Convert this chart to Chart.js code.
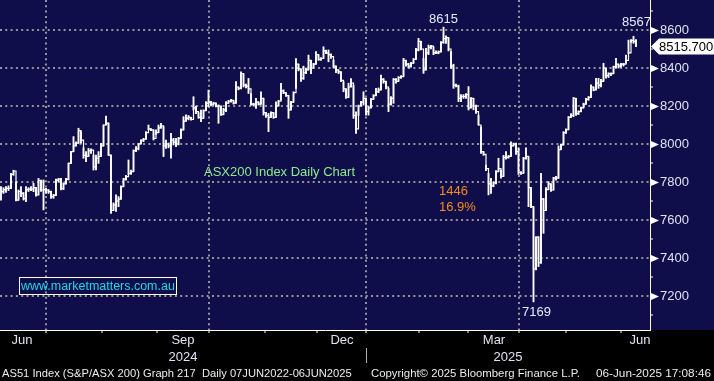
<!DOCTYPE html>
<html><head><meta charset="utf-8">
<script src="https://cdn.jsdelivr.net/npm/chart.js@4.4.1/dist/chart.umd.min.js"></script>
<style>html,body{margin:0;padding:0;background:#000;overflow:hidden}#wrap{width:714px;height:381px}</style>
</head><body><div id="wrap"><canvas id="c" width="714" height="381"></canvas></div>
<script>
// ---- data (daily bars, Jun 2024 - 6 Jun 2025) ----
const closes = [
7749,7760,7766,7767,7840,7858,7705,7750,7740,7712,
7760,7762,7762,7770,7732,7808,7758,7760,7758,7749,
7723,7730,7810,7815,7765,7790,7814,7898,7960,7990,
8005,8070,8020,7940,7935,7965,7968,7880,7925,7935,
7990,8100,8110,7942,7650,7680,7700,7710,7776,7815,
7828,7846,7855,7965,7975,8000,8020,8025,8060,8080,
8074,8030,8060,8085,8095,7990,8000,7990,8020,8010,
8000,8030,8074,8120,8135,8140,8130,8190,8170,8140,
8135,8175,8215,8220,8210,8215,8200,8200,8155,8180,
8215,8225,8230,8215,8300,8293,8370,8310,8305,8290,
8210,8210,8220,8210,8240,8165,8150,8140,8165,8140,
8200,8225,8280,8270,8255,8180,8220,8270,8420,8395,
8345,8375,8390,8440,8400,8420,8470,8445,8450,8490,
8480,8470,8460,8410,8390,8380,8335,8290,8245,8300,
8320,8150,8080,8200,8220,8240,8170,8190,8235,8255,
8275,8285,8340,8330,8300,8210,8240,8340,8330,8350,
8355,8440,8420,8410,8425,8445,8495,8540,8500,8390,
8480,8510,8515,8480,8480,8485,8535,8555,8560,8500,
8410,8310,8305,8240,8250,8250,8260,8190,8240,8200,
8170,8100,7960,7945,7870,7790,7780,7795,7855,7870,
7830,7930,7930,7935,7990,8000,7960,7850,7846,7925,
7935,7770,7670,7343,7510,7375,7710,7650,7760,7790,
7758,7820,7820,7970,7995,8060,8075,8140,8150,8240,
8160,8170,8190,8210,8235,8245,8300,8285,8320,8310,
8330,8400,8360,8370,8370,8407,8420,8410,8420,8420,
8440,8480,8545,8540,8515.7];
const highs = [
7776,7770,7776,7780,7845,7862,7800,7758,7776,7745,
7776,7770,7776,7793,7770,7819,7810,7811,7767,7760,
7752,7735,7815,7819,7819,7795,7819,7900,7962,8039,
8012,8083,8065,7980,7960,7977,7975,7942,7942,7960,
8004,8100,8147,8110,7942,7690,7732,7723,7780,7819,
7835,7916,7863,7969,7986,8004,8021,8030,8065,8100,
8080,8074,8074,8100,8109,8092,8021,8005,8056,8030,
8030,8035,8080,8144,8153,8150,8140,8249,8200,8165,
8179,8180,8223,8284,8225,8220,8215,8206,8200,8188,
8223,8230,8235,8230,8328,8300,8380,8370,8315,8345,
8266,8215,8240,8222,8275,8240,8165,8161,8170,8165,
8222,8230,8319,8285,8270,8257,8225,8275,8450,8420,
8395,8410,8400,8468,8440,8425,8486,8470,8455,8512,
8495,8495,8475,8442,8410,8390,8380,8328,8290,8320,
8345,8310,8170,8205,8225,8275,8240,8200,8240,8260,
8293,8295,8363,8345,8330,8293,8250,8345,8345,8355,
8360,8451,8440,8425,8430,8450,8504,8556,8540,8450,
8504,8521,8520,8510,8490,8490,8539,8615,8570,8560,
8486,8420,8315,8310,8260,8260,8265,8302,8245,8240,
8205,8152,8091,7960,7889,7846,7819,7800,7860,7925,
7863,7940,7960,7940,8012,8005,8005,7980,7855,7930,
7980,7933,7770,7670,7512,7512,7846,7714,7770,7802,
7790,7825,7830,7990,8000,8065,8080,8145,8160,8245,
8240,8175,8195,8215,8240,8250,8311,8300,8346,8346,
8340,8425,8400,8375,8375,8410,8451,8420,8425,8425,
8468,8547,8550,8567,8550];
const lows = [
7705,7740,7745,7755,7765,7835,7700,7705,7723,7705,
7697,7750,7755,7749,7725,7732,7750,7653,7740,7740,
7714,7714,7730,7800,7758,7760,7790,7811,7898,7960,
7990,8005,8004,7925,7907,7935,7950,7863,7863,7898,
7935,7990,8100,7940,7635,7650,7645,7670,7710,7776,
7810,7840,7840,7855,7960,7969,8000,8012,8025,8074,
8070,8021,8050,8060,8083,7934,7977,7980,7925,7995,
7986,7995,8030,8074,8120,8127,8125,8179,8160,8135,
8118,8135,8175,8197,8200,8205,8195,8109,8150,8155,
8170,8215,8220,8210,8215,8285,8290,8300,8295,8266,
8205,8200,8187,8205,8210,8152,8140,8065,8140,8135,
8140,8200,8231,8265,8250,8135,8180,8220,8293,8385,
8330,8340,8370,8390,8370,8400,8420,8440,8440,8450,
8475,8433,8450,8400,8375,8370,8328,8275,8240,8245,
8300,8135,8056,8150,8200,8205,8152,8152,8190,8235,
8255,8270,8285,8320,8290,8170,8205,8214,8320,8330,
8345,8355,8410,8400,8405,8425,8445,8490,8495,8372,
8390,8470,8500,8470,8475,8475,8485,8530,8530,8490,
8398,8293,8300,8223,8223,8240,8240,8179,8190,8180,
8161,8100,7951,7940,7860,7732,7740,7775,7790,7855,
7820,7830,7920,7925,7935,7990,7945,7840,7840,7846,
7920,7670,7665,7169,7337,7355,7372,7530,7650,7760,
7750,7758,7810,7820,7970,7995,8056,8075,8140,8144,
8150,8155,8170,8190,8210,8230,8245,8280,8285,8293,
8300,8330,8346,8350,8360,8370,8400,8400,8405,8410,
8425,8477,8535,8530,8512];
const yTicks = [7100,7200,7300,7400,7500,7600,7700,7800,7900,8000,8100,8200,8300,8400,8500,8600,8700];
const monthLabels = ['Jun','Sep','Dec','Mar','Jun'];
const yearLabels = ['2024','2025'];
const chartTitle = 'ASX200 Index Daily Chart';
const dropLabels = ['1446','16.9%'];
const siteLabel = 'www.marketmatters.com.au';
const footerLeft = 'AS51 Index (S&P/ASX 200) Graph 217  Daily 07JUN2022-06JUN2025';
const footerMid = 'Copyright\u00A9 2025 Bloomberg Finance L.P.';
const footerRight = '06-Jun-2025 17:08:46';

// ---- layout constants (bar-index positions of axis marks) ----
const X_MIN = -0.4, X_MAX = 259.6;
const MONTH_BOUNDS = [18,40.4,62.4,83.2,105.6,126.4,146,167.2,186.8,207.2,226,248];
const QUARTER_BOUNDS = [18,83.2,146,207.2];
const MONTH_LABEL_POS = [8.4,72.8,136.4,197.2,255.6];
const YEAR_LABEL_POS = [72.8,202.8];
const FONT = "'Liberation Sans', Arial, sans-serif";
const NAVY = '#100e4a';
const GRID = '#959595';
const TXT = '#e2e2f2';
const DASH = [2, 3.3];

const bgPlugin = {
  id: 'bg',
  beforeDraw(chart) {
    const {ctx, chartArea: a} = chart;
    ctx.save();
    ctx.fillStyle = '#000'; ctx.fillRect(0, 0, chart.width, chart.height);
    ctx.fillStyle = NAVY; ctx.fillRect(0, 0, chart.width, a.bottom);
    ctx.restore();
  }
};

function fitText(ctx, text, x, y, w, base) {
  ctx.font = base + 'px ' + FONT;
  const m = ctx.measureText(text).width;
  ctx.font = (base * w / m).toFixed(2) + 'px ' + FONT;
  ctx.fillText(text, x, y);
}

const decoPlugin = {
  id: 'deco',
  afterDraw(chart) {
    const {ctx, chartArea: a} = chart;
    const x = chart.scales.x, y = chart.scales.y;
    ctx.save();
    // axis triangles at labelled ticks
    ctx.fillStyle = '#fff';
    yTicks.filter(v => v % 200 === 0).forEach(v => {
      const py = Math.round(y.getPixelForValue(v)) + 0.5;
      ctx.beginPath();
      ctx.moveTo(a.right + 1, py - 3.5); ctx.lineTo(a.right + 9, py); ctx.lineTo(a.right + 1, py + 3.5);
      ctx.closePath(); ctx.fill();
    });
    // last price tag
    const last = closes[closes.length - 1];
    const ty = Math.round(y.getPixelForValue(last)) + 0.5;
    ctx.beginPath();
    ctx.moveTo(a.right + 1, ty); ctx.lineTo(a.right + 9, ty - 8); ctx.lineTo(chart.width, ty - 8);
    ctx.lineTo(chart.width, ty + 8); ctx.lineTo(a.right + 9, ty + 8); ctx.closePath(); ctx.fill();
    ctx.fillStyle = '#000'; ctx.font = '13px ' + FONT; ctx.textBaseline = 'middle'; ctx.textAlign = 'left';
    ctx.fillText(last.toFixed(3), a.right + 9, ty + 0.5);

    // extreme labels
    ctx.fillStyle = '#e4ecff'; ctx.textAlign = 'center';
    const hiMax = Math.max(...highs), hiIdx = highs.indexOf(hiMax);
    ctx.fillText(String(hiMax), x.getPixelForValue(hiIdx), y.getPixelForValue(hiMax) - 7.5);
    const recent = highs.slice(240), rMax = Math.max(...recent), rIdx = 240 + recent.indexOf(rMax);
    ctx.fillText(String(rMax), x.getPixelForValue(rIdx) + 3, y.getPixelForValue(rMax) - 13.5);
    const loMin = Math.min(...lows), loIdx = lows.indexOf(loMin);
    ctx.fillText(String(loMin), x.getPixelForValue(loIdx) + 3, y.getPixelForValue(loMin) + 11);

    // titles
    ctx.textAlign = 'left';
    ctx.fillStyle = '#8cec8c';
    ctx.fillText(chartTitle, 204, 172.5);
    ctx.fillStyle = '#f28c1c';
    ctx.fillText(dropLabels[0], 439, 191.5);
    ctx.fillText(dropLabels[1], 439, 207.5);

    // site box
    ctx.strokeStyle = '#fff'; ctx.lineWidth = 1;
    ctx.strokeRect(19.5, 277.5, 157, 17);
    ctx.fillStyle = '#1ed8e6';
    fitText(ctx, siteLabel, 21, 286.5, 154, 13);

    // year separator
    ctx.strokeStyle = '#b0b0b0';
    ctx.beginPath(); ctx.moveTo(366.5, 348); ctx.lineTo(366.5, 363); ctx.stroke();

    // footer
    ctx.fillStyle = '#ececec'; ctx.textBaseline = 'alphabetic';
    fitText(ctx, footerLeft, 2, 376.5, 350, 12);
    fitText(ctx, footerMid, 371, 376.5, 209, 12);
    fitText(ctx, footerRight, 596, 376.5, 115, 12);
    ctx.restore();
  }
};

const tickFont = {family: FONT, size: 13};

new Chart(document.getElementById('c'), {
  type: 'bar',
  data: {
    datasets: [
      {
        type: 'line',
        data: closes.map((c, i) => ({x: i, y: c})),
        borderColor: '#ffffff', borderWidth: 1.2, pointRadius: 0, stepped: true, order: 1
      },
      {
        type: 'bar',
        data: highs.map((h, i) => ({x: i, y: [lows[i], h]})),
        backgroundColor: '#ffffff', borderWidth: 0, barThickness: 1.2, grouped: false, order: 2
      }
    ]
  },
  options: {
    responsive: false, animation: false, devicePixelRatio: 1,
    layout: {padding: 0, autoPadding: false},
    plugins: {legend: {display: false}, tooltip: {enabled: false}},
    scales: {
      x: {
        type: 'linear', position: 'bottom', min: X_MIN, max: X_MAX, offset: false, weight: 0,
        afterBuildTicks: s => {
          s.ticks = MONTH_BOUNDS.concat(MONTH_LABEL_POS).sort((p, q) => p - q).map(v => ({value: v}));
        },
        afterFit: s => { s.height = 20; s.paddingLeft = 0; s.paddingRight = 0; },
        ticks: {
          autoSkip: false, maxRotation: 0, minRotation: 0, padding: 0, color: TXT, font: tickFont,
          callback: v => { const k = MONTH_LABEL_POS.indexOf(v); return k >= 0 ? monthLabels[k] : ''; }
        },
        grid: {
          offset: false, lineWidth: 2, tickLength: 3, tickWidth: 1,
          color: c => (c.tick && QUARTER_BOUNDS.includes(c.tick.value)) ? GRID : 'rgba(0,0,0,0)',
          tickColor: c => (c.tick && MONTH_BOUNDS.includes(c.tick.value)) ? '#ffffff' : 'rgba(0,0,0,0)'
        },
        border: {display: true, color: '#ffffff', width: 1, dash: DASH}
      },
      x2: {
        type: 'linear', position: 'bottom', min: X_MIN, max: X_MAX, offset: false, weight: 1,
        afterBuildTicks: s => { s.ticks = YEAR_LABEL_POS.map(v => ({value: v})); },
        afterFit: s => { s.height = 31; s.paddingLeft = 0; s.paddingRight = 0; },
        ticks: {
          autoSkip: false, maxRotation: 0, minRotation: 0, padding: 0, color: TXT, font: tickFont,
          callback: v => yearLabels[YEAR_LABEL_POS.indexOf(v)]
        },
        grid: {display: false, drawTicks: false},
        border: {display: false}
      },
      y: {
        type: 'linear', position: 'right', min: 7021, max: 8758,
        afterBuildTicks: s => { s.ticks = yTicks.map(v => ({value: v})); },
        afterFit: s => { s.width = 64; s.paddingTop = 0; s.paddingBottom = 0; },
        ticks: {
          autoSkip: false, padding: 7, color: TXT, font: tickFont,
          callback: v => (v % 200 === 0 ? String(v) : '')
        },
        grid: {
          lineWidth: 2, tickLength: 3, tickWidth: 1,
          color: c => (c.tick && c.tick.value % 200 === 0) ? GRID : 'rgba(0,0,0,0)',
          tickColor: c => (c.tick && c.tick.value % 200 !== 0) ? '#ffffff' : 'rgba(0,0,0,0)'
        },
        border: {display: true, color: '#ffffff', width: 1, dash: DASH}
      }
    }
  },
  plugins: [bgPlugin, decoPlugin]
});
</script>
</body></html>
